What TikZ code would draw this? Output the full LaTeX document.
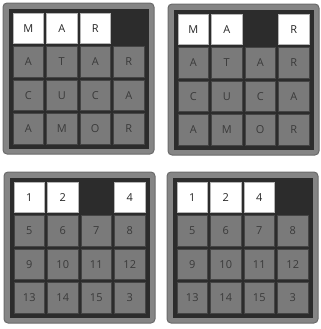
\documentclass[tikz,border=0pt]{standalone}
\usepackage{fontspec}
\setmainfont{Open Sans}
\usepackage{xcolor}

\definecolor{framegray}{HTML}{858585}
\definecolor{frameedge}{HTML}{6B6B6B}
\definecolor{wellgray}{HTML}{2C2C2C}
\definecolor{tilegray}{HTML}{7A7A7A}
\definecolor{tileedge}{HTML}{454545}
\definecolor{inkgray}{HTML}{3A3A3A}
\definecolor{litedge}{HTML}{B5B5B5}

\tikzset{
  frame/.style={fill=framegray, draw=frameedge, line width=1bp, rounded corners=4bp},
  well/.style={fill=wellgray},
  tile/.style={draw=tileedge, fill=tilegray, line width=0.8bp, minimum size=30.5bp,
    inner sep=0pt, text=inkgray, font=\fontsize{11}{13}\selectfont},
  lit/.style={tile, draw=litedge, fill=white, text=black!85}
}

\begin{document}
\begin{tikzpicture}[x=1bp, y=-1bp]
\useasboundingbox (0,0) rectangle (321,329);

% word puzzle, gap at the end
\begin{scope}[shift={(3,3)}]
\draw [frame] (0,0) rectangle (151,151);
\fill [well] (6,6) rectangle (146,146);
\foreach \t [count=\i from 0] in {M,A,R}
  \node [lit] (wa-0-\i) at ({25.25+33.5*\i},25.25) {\t};
\foreach \r/\row in {1/{A,T,A,R},2/{C,U,C,A},3/{A,M,O,R}}
  \foreach \t [count=\i from 0] in \row
    \node [tile] (wa-\r-\i) at ({25.25+33.5*\i},{25.25+33.5*\r}) {\t};
\end{scope}

% word puzzle, gap moved one place left
\begin{scope}[shift={(168,4)}]
\draw [frame] (0,0) rectangle (151,151);
\fill [well] (6,6) rectangle (146,146);
\foreach \i/\t in {0/M,1/A,3/R}
  \node [lit] (wb-0-\i) at ({25.25+33.5*\i},25.25) {\t};
\foreach \r/\row in {1/{A,T,A,R},2/{C,U,C,A},3/{A,M,O,R}}
  \foreach \t [count=\i from 0] in \row
    \node [tile] (wb-\r-\i) at ({25.25+33.5*\i},{25.25+33.5*\r}) {\t};
\end{scope}

% number puzzle, gap in third place
\begin{scope}[shift={(4,172)}]
\draw [frame] (0,0) rectangle (151,151);
\fill [well] (6,6) rectangle (146,146);
\foreach \i/\t in {0/1,1/2,3/4}
  \node [lit] (na-0-\i) at ({25.25+33.5*\i},25.25) {\t};
\foreach \r/\row in {1/{5,6,7,8},2/{9,10,11,12},3/{13,14,15,3}}
  \foreach \t [count=\i from 0] in \row
    \node [tile] (na-\r-\i) at ({25.25+33.5*\i},{25.25+33.5*\r}) {\t};
\end{scope}

% number puzzle, gap at the end
\begin{scope}[shift={(167,172)}]
\draw [frame] (0,0) rectangle (151,151);
\fill [well] (6,6) rectangle (146,146);
\foreach \t [count=\i from 0] in {1,2,4}
  \node [lit] (nb-0-\i) at ({25.25+33.5*\i},25.25) {\t};
\foreach \r/\row in {1/{5,6,7,8},2/{9,10,11,12},3/{13,14,15,3}}
  \foreach \t [count=\i from 0] in \row
    \node [tile] (nb-\r-\i) at ({25.25+33.5*\i},{25.25+33.5*\r}) {\t};
\end{scope}
\end{tikzpicture}
\end{document}
